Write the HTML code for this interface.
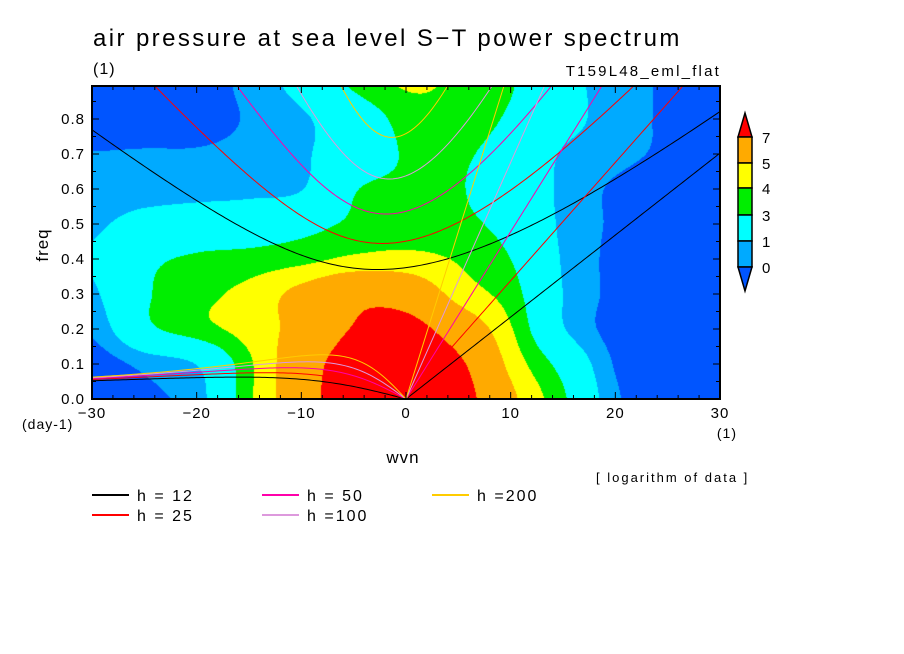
<!DOCTYPE html>
<html><head><meta charset="utf-8">
<style>
body{margin:0;background:#fff;width:904px;height:654px;overflow:hidden;position:relative;font-family:"Liberation Sans",sans-serif;}
svg{position:absolute;left:0;top:0}
canvas{position:absolute;left:92px;top:86px}
</style></head>
<body>
<canvas id="field" width="628" height="313"></canvas>
<svg id="chart" width="904" height="654"></svg>
<script>
// ---- data ----
const wvnGrid = [-30,-25,-20,-15,-10,-5,0,5,10,15,20,25,30];
const freqGrid = [0,0.1,0.2,0.3,0.4,0.5,0.6,0.7,0.8,0.9];
const logPower = [
 [-1.0,-0.2,0.5,3.8,6.0,8.5,9.0,7.8,5.3,3.2,0.2,-0.8,-1.2],
 [-0.6,0.3,1.05,3.8,6.0,8.0,8.5,7.3,4.7,2.5,-0.1,-1.0,-1.2],
 [0.2,2.6,3.6,4.4,5.5,7.1,7.6,6.1,4.1,1.1,-0.4,-1.0,-1.2],
 [0.8,2.8,3.7,4.3,5.4,6.5,6.2,4.6,3.5,1.0,-0.3,-1.0,-1.2],
 [1.1,2.6,3.2,3.4,3.7,4.2,4.3,3.9,3.0,0.9,-0.3,-1.0,-1.2],
 [0.8,1.5,1.8,2.0,2.5,3.2,3.5,3.3,2.5,0.8,-0.2,-1.0,-1.2],
 [0.4,0.5,0.6,0.7,0.95,2.9,3.2,3.1,2.0,0.8,-0.2,-1.0,-1.2],
 [0.05,0.1,0.1,0.3,0.8,2.0,3.1,3.2,2.3,0.9,0.4,-0.3,-1.0],
 [-0.8,-0.6,-0.4,0.1,0.8,2.0,3.4,3.6,2.8,1.5,0.5,-0.2,-1.0],
 [-0.9,-0.8,-0.5,0.3,1.5,3.2,4.1,3.8,3.1,1.5,0.5,-0.2,-1.0]
];
const levels = [0,1,3,4,5,7];
const levelColors = ["#0055ff","#00aaff","#00ffff","#00ee00","#ffff00","#ffaa00","#ff0000"];
const depths = [12,25,50,100,200];
const depthColors = ["#000000","#ff0000","#ff00aa","#dd99dd","#ffcc00"];
const depthLabels = ["h = 12","h = 25","h = 50","h =100","h =200"];
const xTicks = [-30,-20,-10,0,10,20,30];
const yTicks = [0,0.1,0.2,0.3,0.4,0.5,0.6,0.7,0.8];

// ---- axes ----
const X0=92,X1=720,Y0=399,Y1=86;
const xs=k=>X0+(k+30)/60*(X1-X0);
const ys=f=>Y0-f*350;
const NS="http://www.w3.org/2000/svg";
const svg=document.getElementById('chart');
function mk(tag,attrs,parent){const e=document.createElementNS(NS,tag);for(const a in attrs)e.setAttribute(a,attrs[a]);(parent||svg).appendChild(e);return e;}

// ---- field (Catmull-Rom interpolation) ----
function cr(p0,p1,p2,p3,t){return 0.5*((2*p1)+(-p0+p2)*t+(2*p0-5*p1+4*p2-p3)*t*t+(-p0+3*p1-3*p2+p3)*t*t*t);}
function gv(j,i){j=Math.max(0,Math.min(freqGrid.length-1,j));i=Math.max(0,Math.min(wvnGrid.length-1,i));return logPower[j][i];}
(function(){
 const cv=document.getElementById('field');const ctx=cv.getContext('2d');
 const W=cv.width,H=cv.height;const img=ctx.createImageData(W,H);
 const rgb=levelColors.map(c=>[parseInt(c.substr(1,2),16),parseInt(c.substr(3,2),16),parseInt(c.substr(5,2),16)]);
 for(let py=0;py<H;py++){
  const f=(H-py-0.5)/350;
  let j=0;while(j<freqGrid.length-2&&f>freqGrid[j+1])j++;
  const ty=Math.min(1,(f-freqGrid[j])/(freqGrid[j+1]-freqGrid[j]));
  for(let px=0;px<W;px++){
   const k=-30+60*(px+0.5)/W;
   let i=0;while(i<wvnGrid.length-2&&k>wvnGrid[i+1])i++;
   const tx=(k-wvnGrid[i])/(wvnGrid[i+1]-wvnGrid[i]);
   const r=[];
   for(let m=-1;m<=2;m++){r.push(cr(gv(j+m,i-1),gv(j+m,i),gv(j+m,i+1),gv(j+m,i+2),tx));}
   const v=cr(r[0],r[1],r[2],r[3],ty);
   let l=0;while(l<levels.length&&v>=levels[l])l++;
   const c=rgb[l];const o=(py*W+px)*4;
   img.data[o]=c[0];img.data[o+1]=c[1];img.data[o+2]=c[2];img.data[o+3]=255;
  }
 }
 ctx.putImageData(img,0,0);
})();

// ---- dispersion curves ----
const defs=mk('defs',{});
const cp=mk('clipPath',{id:'plotclip'},defs);
mk('rect',{x:X0,y:Y1,width:X1-X0,height:Y0-Y1},cp);
const curves=mk('g',{'clip-path':'url(#plotclip)'});


const beta=2.289e-11,Re=6.371e6,toCpd=86400/(2*Math.PI);
depths.forEach((h,di)=>{
 const c=Math.sqrt(9.81*h);const col=depthColors[di];
 let ig=[],ro=[],kv=[];
 for(let s=-30;s<=30.001;s+=0.25){
  const k=s/Re;
  const A=c*c*k*k+3*beta*c,B=beta*c*c*k;
  let w=Math.sqrt(A)+1e-7;
  for(let n=0;n<40;n++){w=w-(w*w*w-A*w-B)/(3*w*w-A);}
  ig.push([xs(s),ys(w*toCpd)]);
  if(s<=0){ro.push([xs(s),ys(-beta*k/(k*k+3*beta/c)*toCpd)]);}
  if(s>=0){kv.push([xs(s),ys(c*k*toCpd)]);}
 }
 const pts=a=>a.map(p=>p[0].toFixed(2)+','+p[1].toFixed(2)).join(' ');
 const p1=mk('polyline',{points:pts(ig),fill:'none',stroke:col,'stroke-width':1},curves);
 
 
 const p2=mk('polyline',{points:pts(ro),fill:'none',stroke:col,'stroke-width':1},curves);
 
 
 const p3=mk('polyline',{points:pts(kv),fill:'none',stroke:col,'stroke-width':1},curves);
 
 
});

// ---- frame & ticks ----
const frame=mk('rect',{x:X0,y:Y1,width:X1-X0,height:Y0-Y1,fill:'none',stroke:'#000','stroke-width':2});


const tg=mk('g',{stroke:'#000','stroke-width':1});
for(let k=-30;k<=30;k+=2){const x=xs(k);const L=(k%10===0)?7:4;
 mk('line',{x1:x,y1:Y0,x2:x,y2:Y0-L},tg);mk('line',{x1:x,y1:Y1,x2:x,y2:Y1+L},tg);}
for(let i=0;i<=17;i++){const f=i*0.05;const y=ys(f);if(y<Y1)continue;const L=(i%2===0)?7:4;
 mk('line',{x1:X0,y1:y,x2:X0+L,y2:y},tg);mk('line',{x1:X1,y1:y,x2:X1-L,y2:y},tg);}
function txt(s,x,y,size,anchor,name,extra){const t=mk('text',Object.assign({x:x,y:y,'font-size':size,'text-anchor':anchor||'start',fill:'#000','font-family':'Liberation Sans, sans-serif'},extra||{}));t.textContent=s;
 
 return t;}
xTicks.forEach(k=>{txt(k<0?'\u2212'+(-k):String(k),xs(k),418,15,'middle','x-tick-label',{'letter-spacing':1});});
yTicks.forEach(f=>{txt(f.toFixed(1),85,ys(f)+5,15,'end','y-tick-label',{'letter-spacing':1});});
txt('(day-1)',22,429,14,'start','y-unit-label',{'letter-spacing':1});
txt('(1)',737,438,14,'end','x-unit-label',{'letter-spacing':1});
txt('air pressure at sea level S\u2212T power spectrum',93,46,24,'start','chart-title',{'letter-spacing':2.4});
txt('(1)',93,74,16,'start','title-unit',{'letter-spacing':1});
txt('T159L48_eml_flat',721,76,15,'end','experiment-label',{'letter-spacing':2.2});
txt('freq',48,245,17,'middle','y-axis-title',{transform:'rotate(-90 48 245)','letter-spacing':1});
txt('wvn',403,463,17,'middle','x-axis-title',{'letter-spacing':1});
txt('[ logarithm of data ]',596,482,13,'start','data-note',{'letter-spacing':2});

// ---- legend ----
const legPos=[[92,495],[92,515],[262,495],[262,515],[432,495]];
depths.forEach((h,i)=>{const [x,y]=legPos[i];
 const ln=mk('line',{x1:x,y1:y,x2:x+37,y2:y,stroke:depthColors[i],'stroke-width':2});
 
 
 txt(depthLabels[i],x+45,y+6,16,'start','legend-entry-h'+h,{'letter-spacing':2});
});

// ---- colorbar ----
const cb=mk('g',{stroke:'#000','stroke-width':1.5});


const bx0=738,bx1=752;
const boxY=[137,163,188,215,241,267];
mk('polygon',{points:`${bx0},${boxY[0]} ${(bx0+bx1)/2},113 ${bx1},${boxY[0]}`,fill:levelColors[6]},cb);
for(let i=0;i<5;i++){mk('rect',{x:bx0,y:boxY[i],width:bx1-bx0,height:boxY[i+1]-boxY[i],fill:levelColors[5-i]},cb);}
mk('polygon',{points:`${bx0},${boxY[5]} ${(bx0+bx1)/2},291 ${bx1},${boxY[5]}`,fill:levelColors[0]},cb);
const cbLabels=[7,5,4,3,1,0];
cbLabels.forEach((v,i)=>{txt(String(v),762,boxY[i]+6,15,'start','colorbar-label');});
</script>
</body></html>
